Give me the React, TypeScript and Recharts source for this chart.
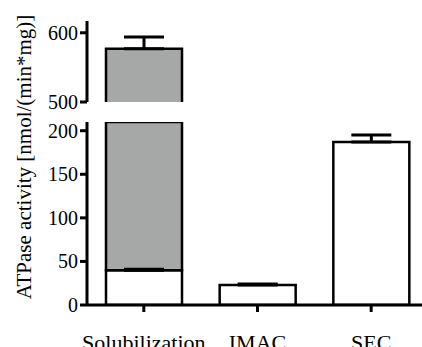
import React from 'react';
import { BarChart, Bar, XAxis, YAxis, ErrorBar } from 'recharts';

// ATPase activity per purification step (nmol/(min*mg))
const categories = ['Solubilization', 'IMAC', 'SEC'];
const baseActivity = [40, 23, 187];
const baseError = [1, 1, 8];
// extra activity stacked on top (solubilization only)
const addedActivity = [537, 0, 0];
const totalError = [17, 0, 0];

const upperTicks = [500, 600];
const lowerTicks = [0, 50, 100, 150, 200];

const data = categories.map((name, i) => ({
  name,
  base: baseActivity[i],
  baseErr: [0, baseError[i]],
  added: addedActivity[i],
  upper: addedActivity[i] > 0 ? baseActivity[i] + addedActivity[i] : null,
  upperErr: [0, totalError[i]],
}));

const font = 'Liberation Serif';
const GRAY = '#a6a8a8';

const YTick = (props: any) => {
  const { x, y, payload } = props;
  return (
    <text x={x} y={y} textAnchor="end" dominantBaseline="central" fontFamily={font} fontSize={20} fill="#000">
      {payload.value}
    </text>
  );
};

const XTick = (props: any) => {
  const { x, y, payload } = props;
  return (
    <text x={x} y={y} dy="0.71em" textAnchor="middle" fontFamily={font} fontSize={22} fill="#000">
      {payload.value}
    </text>
  );
};

// gray block of the broken upper segment: no bottom edge
const OpenBottom = (props: any) => {
  const { x, y, width, height } = props;
  if (!height || height <= 0) return null;
  return (
    <g>
      <rect x={x} y={y} width={width} height={height} fill={GRAY} />
      <path
        d={`M${x},${y + height}L${x},${y}L${x + width},${y}L${x + width},${y + height}`}
        fill="none"
        stroke="#000"
        strokeWidth={2.5}
      />
    </g>
  );
};

const axisStroke = { stroke: '#000', strokeWidth: 3 };

export default function App() {
  return (
    <div
      style={{
        position: 'absolute',
        left: 0,
        top: 0,
        width: 422,
        height: 347,
        overflow: 'hidden',
        background: '#fff',
        fontFamily: font,
      }}
    >
      {/* upper segment 500-617 */}
      <div style={{ position: 'absolute', left: 0, top: 0 }}>
        <BarChart width={430} height={120} data={data} margin={{ top: 21, right: 2, left: 0, bottom: 18 }}>
          <XAxis dataKey="name" hide />
          <YAxis
            domain={[500, 617]}
            ticks={upperTicks}
            interval={0}
            allowDataOverflow
            width={87}
            tick={<YTick />}
            tickSize={7}
            tickMargin={2}
            axisLine={axisStroke}
            tickLine={axisStroke}
          />
          <Bar dataKey="upper" barSize={76} shape={OpenBottom} isAnimationActive={false}>
            <ErrorBar dataKey="upperErr" width={20} stroke="#000" strokeWidth={3} />
          </Bar>
        </BarChart>
      </div>

      {/* lower segment 0-210 */}
      <div style={{ position: 'absolute', left: 0, top: 0 }}>
        <BarChart width={430} height={347} data={data} margin={{ top: 122, right: 2, left: 0, bottom: 0 }}>
          <XAxis
            dataKey="name"
            height={42}
            tick={<XTick />}
            tickSize={7}
            tickMargin={22}
            axisLine={axisStroke}
            tickLine={axisStroke}
            interval={0}
          />
          <YAxis
            domain={[0, 210]}
            ticks={lowerTicks}
            interval={0}
            allowDataOverflow
            width={87}
            tick={<YTick />}
            tickSize={7}
            tickMargin={2}
            axisLine={axisStroke}
            tickLine={axisStroke}
          />
          <Bar dataKey="base" stackId="a" barSize={76} fill="#fff" stroke="#000" strokeWidth={2.5} isAnimationActive={false}>
            <ErrorBar dataKey="baseErr" width={20} stroke="#000" strokeWidth={3} />
          </Bar>
          <Bar dataKey="added" stackId="a" barSize={76} fill={GRAY} stroke="#000" strokeWidth={2.5} isAnimationActive={false} />
        </BarChart>
      </div>

      <svg width={60} height={347} style={{ position: 'absolute', left: 0, top: 0 }}>
        <text
          x={24}
          y={157}
          transform="rotate(-90 24 157)"
          textAnchor="middle"
          dominantBaseline="central"
          fontFamily={font}
          fontSize={21}
          fill="#000"
        >
          ATPase activity [nmol/(min*mg)]
        </text>
      </svg>
    </div>
  );
}
